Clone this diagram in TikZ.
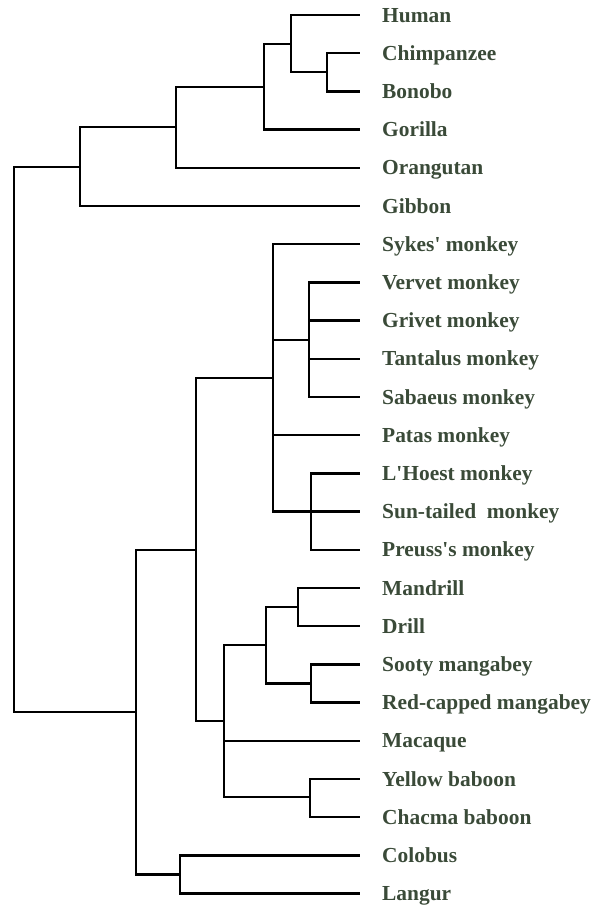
\documentclass[tikz,border=0pt]{standalone}
\usepackage{fontspec}
\newfontfamily\labfont{Liberation Serif}
\definecolor{labelgreen}{RGB}{58,74,56}
\begin{document}
\begin{tikzpicture}[x=1pt,y=-1pt,
  branch/.style={line width=2.3pt,black,line join=miter,line cap=rect},
  leaflabel/.style={anchor=base west,inner sep=0pt,text=labelgreen,
    font=\labfont\fontsize{21.4}{24}\selectfont\bfseries}]
\useasboundingbox (0,0) rectangle (592,905);
% leaf tips
\def\tipx{359}
\def\labx{382}
\foreach \nm/\txt [count=\i from 0] in {
  hum/Human, chi/Chimpanzee, bon/Bonobo, gor/Gorilla, ora/Orangutan, gib/Gibbon,
  syk/Sykes' monkey, ver/Vervet monkey, gri/Grivet monkey, tan/Tantalus monkey,
  sab/Sabaeus monkey, pat/Patas monkey, lho/L'Hoest monkey, sun/Sun-tailed\ \ monkey,
  pre/Preuss's monkey, man/Mandrill, dri/Drill, soo/Sooty mangabey,
  red/Red-capped mangabey, mac/Macaque, yel/Yellow baboon, cha/Chacma baboon,
  col/Colobus, lan/Langur}{
  \pgfmathsetmacro{\yy}{15+\i*38.2}
  \coordinate (\nm) at (\tipx,\yy);
  \node[leaflabel] (\nm-label) at (\labx,\yy+7) {\txt};
}
% internal nodes
\coordinate (cb)    at (327,72.3);
\coordinate (hcb)   at (291,43.7);
\coordinate (hcbg)  at (264,86.7);
\coordinate (homid) at (176,127.2);
\coordinate (homin) at (80,166.9);
\coordinate (vgrp)  at (309,339.7);
\coordinate (lgrp)  at (311,511.6);
\coordinate (cerc)  at (273,378.2);
\coordinate (mdr)   at (298,607.1);
\coordinate (mng)   at (311,683.5);
\coordinate (msub)  at (266,645.3);
\coordinate (bab)   at (310,797.1);
\coordinate (papi)  at (224,721.2);
\coordinate (cinae) at (196,549.7);
\coordinate (colob) at (180,874.5);
\coordinate (cidae) at (136,712.1);
\coordinate (root)  at (14,439.5);
% connectors
\foreach \p/\c in {cb/chi, cb/bon, hcb/hum, hcb/cb, hcbg/hcb, hcbg/gor,
  homid/hcbg, homid/ora, homin/homid, homin/gib, root/homin, root/cidae,
  vgrp/ver, vgrp/gri, vgrp/tan, vgrp/sab, lgrp/lho, lgrp/sun, lgrp/pre,
  cerc/syk, cerc/vgrp, cerc/pat, cerc/lgrp,
  mdr/man, mdr/dri, mng/soo, mng/red, msub/mdr, msub/mng,
  bab/yel, bab/cha, papi/msub, papi/mac, papi/bab,
  cinae/cerc, cinae/papi, colob/col, colob/lan, cidae/cinae, cidae/colob}{
  \draw[branch] (\p) |- (\c);
}
\end{tikzpicture}
\end{document}
